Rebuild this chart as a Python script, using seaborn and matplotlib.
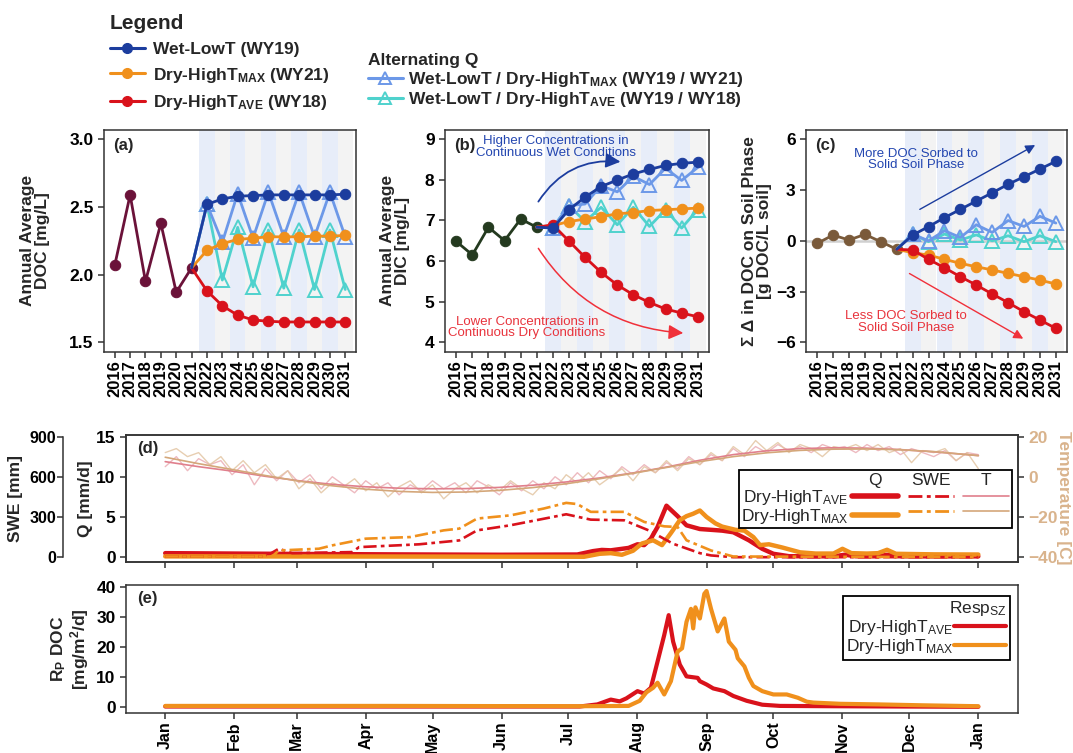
import matplotlib
matplotlib.use("Agg")
import matplotlib.pyplot as plt
from matplotlib.lines import Line2D
import seaborn as sns

# ---------------- data ----------------
YEARS = [2016, 2017, 2018, 2019, 2020, 2021, 2022, 2023, 2024, 2025, 2026, 2027, 2028, 2029, 2030, 2031]
YEARS_HIST = [2016, 2017, 2018, 2019, 2020, 2021]
YEARS_PROJ = [2021, 2022, 2023, 2024, 2025, 2026, 2027, 2028, 2029, 2030, 2031]
WET_YEARS = [2022, 2024, 2026, 2028, 2030]
DRY_YEARS = [2023, 2025, 2027, 2029, 2031]

# (a) annual average DOC [mg/L]
DOC_HIST = [2.07, 2.59, 1.95, 2.38, 1.87, 2.05]
DOC_WET = [2.05, 2.52, 2.56, 2.58, 2.585, 2.59, 2.59, 2.59, 2.59, 2.59, 2.595]
DOC_DRY_MAX = [2.05, 2.18, 2.23, 2.26, 2.27, 2.28, 2.28, 2.28, 2.285, 2.285, 2.29]
DOC_DRY_AVE = [2.05, 1.88, 1.77, 1.70, 1.665, 1.655, 1.65, 1.65, 1.65, 1.65, 1.65]
DOC_ALT_MAX = [2.05, 2.52, 2.24, 2.60, 2.27, 2.61, 2.28, 2.61, 2.28, 2.61, 2.28]
DOC_ALT_AVE = [2.05, 2.52, 1.96, 2.35, 1.91, 2.33, 1.90, 2.33, 1.89, 2.33, 1.89]

# (b) annual average DIC [mg/L]
DIC_HIST = [6.48, 6.15, 6.83, 6.50, 7.03, 6.83]
DIC_WET = [6.83, 6.81, 7.26, 7.57, 7.83, 7.99, 8.14, 8.25, 8.35, 8.40, 8.43]
DIC_DRY_MAX = [6.83, 6.87, 6.97, 7.03, 7.09, 7.16, 7.19, 7.24, 7.26, 7.28, 7.30]
DIC_DRY_AVE = [6.83, 6.89, 6.49, 6.09, 5.72, 5.41, 5.17, 4.98, 4.82, 4.72, 4.63]
DIC_ALT_MAX = [6.83, 6.82, 7.36, 7.40, 7.85, 7.70, 8.08, 7.88, 8.28, 7.98, 8.30]
DIC_ALT_AVE = [6.83, 6.82, 7.36, 6.97, 7.32, 6.89, 7.32, 6.85, 7.26, 6.81, 7.26]

# (c) cumulative change in sorbed DOC [g DOC/L soil]
SOC_HIST = [-0.15, 0.34, 0.05, 0.38, -0.05, -0.50]
SOC_WET = [-0.50, 0.34, 0.84, 1.37, 1.86, 2.35, 2.84, 3.34, 3.79, 4.24, 4.70]
SOC_DRY_MAX = [-0.50, -0.70, -0.84, -1.09, -1.33, -1.53, -1.72, -1.92, -2.12, -2.32, -2.55]
SOC_DRY_AVE = [-0.50, -0.54, -1.09, -1.59, -2.12, -2.61, -3.14, -3.65, -4.19, -4.68, -5.17]
SOC_ALT_MAX = [-0.50, 0.40, 0.00, 0.60, 0.20, 0.95, 0.50, 1.20, 0.85, 1.45, 1.05]
SOC_ALT_AVE = [-0.50, 0.40, -0.05, 0.40, 0.05, 0.35, 0.00, 0.30, -0.05, 0.30, -0.05]

# (d) daily discharge Q [mm/d]
Q_AVE_DAYS = [0, 30, 60, 100, 150, 185, 192, 196, 200, 204, 208, 212, 215, 218, 221, 225, 230,
              234, 240, 245, 250, 255, 262, 268, 273, 280, 300, 305, 310, 320, 324, 328, 340, 365]
Q_AVE = [0.50, 0.45, 0.40, 0.35, 0.30, 0.33, 0.75, 0.90, 0.85, 1.00, 1.15, 1.60, 1.50, 2.30, 3.75, 6.40, 5.10,
         3.96, 3.50, 3.40, 3.30, 3.10, 2.10, 1.04, 0.42, 0.12, 0.10, 0.30, 0.12, 0.10, 0.30, 0.12, 0.10, 0.10]
Q_MAX_DAYS = [0, 100, 188, 195, 200, 205, 210, 214, 219, 223, 227, 231, 234, 237, 240, 243, 247, 250, 256,
              260, 264, 267, 271, 277, 285, 292, 300, 304, 308, 315, 320, 324, 328, 345, 365]
Q_MAX = [0.10, 0.08, 0.05, 0.42, 0.50, 0.30, 0.80, 1.70, 2.10, 1.50, 3.00, 4.60, 5.10, 5.40, 5.80, 5.00, 4.20,
         3.80, 3.40, 3.30, 2.50, 1.50, 1.60, 1.20, 0.60, 0.45, 0.45, 1.04, 0.50, 0.45, 0.50, 0.92, 0.42, 0.35, 0.33]

# (d) snow water equivalent [mm]
SWE_AVE_DAYS = [0, 45, 51, 57, 84, 87, 104, 114, 132, 140, 155, 174, 180, 191, 206, 217, 228, 240, 245, 255, 365]
SWE_AVE = [5, 5, 63, 30, 38, 75, 88, 96, 125, 200, 238, 300, 320, 280, 275, 200, 100, 30, 13, 0, 0]
SWE_MAX_DAYS = [0, 48, 51, 69, 75, 90, 110, 125, 132, 140, 155, 170, 180, 185, 191, 206, 215, 224, 230, 234,
                245, 255, 365]
SWE_MAX = [5, 5, 50, 63, 88, 138, 150, 200, 213, 288, 312, 363, 405, 396, 338, 338, 263, 230, 225, 126,
           50, 5, 0]

# (d) air temperature [C], every 5 days plus a smooth fit
T_AVE = [5, 10, 3, 9, 6, 8, 1, 6, -4, 4, -2, 3, -3, 1, -6, 0, -4, -8, -2, -6, -3, -9, -4, -7, -2, -6, -3, -8,
         -2, -5, -9, -3, -7, -2, -6, 0, -4, 2, -3, 3, -1, 5, 1, 6, 2, 7, 4, 10, 6, 11, 8, 14, 10, 15, 12, 16,
         13, 15, 12, 16, 14, 15, 12, 16, 13, 15, 11, 14, 12, 10, 13, 8, 12, 11]
T_MAX = [12, 14, 10, 12, 6, 10, 3, 8, 2, 6, -1, 3, -6, -1, -8, -3, -5, -1, -7, -3, -10, -5, -2, -8, -4, -11,
         -6, -3, -8, -4, -7, -2, -6, -9, -3, -6, 1, -3, 2, -4, 0, 4, -2, 5, 2, 8, 3, 9, 6, 12, 8, 15, 11, 18,
         13, 17, 12, 16, 14, 10, 15, 14, 16, 13, 16, 12, 14, 7, 13, 12, 14, 8, 12, 4]
T_DAYS = list(range(0, 5 * len(T_AVE), 5))
T_FIT_DAYS = [0, 15, 30, 45, 60, 75, 90, 105, 120, 135, 150, 165, 180, 195, 210, 225, 240, 255, 270, 285,
              300, 315, 330, 345, 365]
T_AVE_FIT = [7.5, 5.0, 2.8, 0.2, -2.0, -3.8, -5.0, -5.7, -6.0, -5.9, -5.3, -4.2, -2.6, -0.6, 1.9, 4.8, 8.2,
             11.0, 12.9, 14.0, 14.4, 14.2, 13.5, 12.4, 10.5]
T_MAX_FIT = [9.7, 6.5, 3.6, 0.6, -2.2, -4.5, -6.2, -7.3, -7.8, -7.6, -6.8, -5.4, -3.5, -1.0, 1.7, 4.6, 7.5,
             10.0, 11.9, 13.1, 13.7, 13.8, 13.4, 12.5, 10.5]

# (e) DOC respiration flux R_P [mg/m2/d]
RP_AVE_DAYS = [0, 100, 186, 194, 200, 204, 207, 212, 215, 218, 221, 224, 226, 228, 231, 234, 239, 240, 243,
               246, 251, 255, 261, 268, 276, 300, 330, 365]
RP_AVE = [0.3, 0.3, 0.3, 1.0, 2.6, 2.0, 3.0, 5.4, 4.6, 6.5, 15.2, 24.0, 30.6, 21.8, 14.2, 10.3, 9.8, 8.7, 7.6,
          6.3, 5.4, 3.8, 2.2, 0.9, 0.5, 0.4, 0.3, 0.2]
RP_MAX_DAYS = [0, 100, 186, 208, 213, 216, 219, 221, 224, 227, 230, 232, 234, 236, 237, 238, 240, 242, 243,
               245, 248, 251, 253, 256, 257, 260, 262, 264, 268, 273, 279, 284, 288, 291, 303, 320, 340, 365]
RP_MAX = [0.5, 0.5, 0.4, 0.5, 2.2, 5.0, 6.5, 8.2, 4.3, 8.7, 18.5, 19.6, 28.4, 32.7, 26.2, 33.2, 29.5, 37.7,
          38.6, 32.7, 25.2, 29.5, 21.8, 19.1, 16.3, 13.6, 9.8, 7.1, 5.4, 4.3, 4.3, 3.2, 1.9, 1.6, 1.2, 1.0, 0.7, 0.4]

MONTH_LABELS = ["Jan", "Feb", "Mar", "Apr", "May", "Jun", "Jul", "Aug", "Sep", "Oct", "Nov", "Dec", "Jan"]
MONTH_DAYS = [0, 31, 59, 90, 120, 151, 181, 212, 243, 273, 304, 334, 365]

# ---------------- style ----------------
NAVY = "#1c3d9e"
CORNFLOWER = "#6c98e8"
TURQ = "#4fd2cd"
ORANGE = "#f0901c"
RED = "#d9121b"
MAROON = "#6b1239"
DKGREEN = "#243a1f"
BROWN = "#7a5a3a"
BAND_WET = "#e7edf9"
BAND_DRY = "#f3f3f3"
T_PINK = "#e8a3ab"
T_TAN = "#e3c6a4"
T_PINK_FIT = "#e07f8c"
T_TAN_FIT = "#d4a77a"
TEMP_AXIS = "#d9b38c"
BLUE_TXT = "#2346b0"
RED_TXT = "#e8333c"
SWE_DASH = (0, (5, 1.6, 1.4, 1.6))

sns.set_theme(style="ticks")
plt.rcParams["font.family"] = ["Liberation Sans", "DejaVu Sans"]
plt.rcParams["mathtext.fontset"] = "custom"
plt.rcParams["mathtext.rm"] = "Liberation Sans"
plt.rcParams["mathtext.bf"] = "Liberation Sans:bold"
plt.rcParams["mathtext.it"] = "Liberation Sans:italic"
plt.rcParams["axes.edgecolor"] = "#333333"
plt.rcParams["axes.linewidth"] = 1.1
for k in ["xtick", "ytick"]:
    plt.rcParams[f"{k}.major.size"] = 4
    plt.rcParams[f"{k}.major.width"] = 1.1
    plt.rcParams[f"{k}.color"] = "#333333"
    plt.rcParams[f"{k}.labelcolor"] = "black"

W, H = 1073, 753


def rect(left, top, right, bottom):
    return [left / W, 1 - bottom / H, (right - left) / W, (bottom - top) / H]


def line(ax, x, y, **kws):
    sns.lineplot(x=x, y=y, ax=ax, estimator=None, sort=False, legend=False, **kws)


def annual_panel(ax, hist, hist_color, wet, dmax, dave, amax, aave, tag):
    for yr in WET_YEARS:
        ax.axvspan(yr - 0.5, yr + 0.5, color=BAND_WET, lw=0, zorder=0)
    for yr in DRY_YEARS:
        ax.axvspan(yr - 0.5, yr + 0.5, color=BAND_DRY, lw=0, zorder=0)
    circ = dict(marker="o", ms=7.5, lw=2.0)
    tri = dict(marker="^", ms=10, lw=2.0, mfc="none", mew=1.4, markevery=slice(1, None))
    line(ax, YEARS_HIST, hist, color=hist_color, mec=hist_color, zorder=3, **circ)
    line(ax, YEARS_PROJ, aave, color=TURQ, mec=TURQ, zorder=4, **tri)
    line(ax, YEARS_PROJ, amax, color=CORNFLOWER, mec=CORNFLOWER, zorder=5, **tri)
    line(ax, YEARS_PROJ, dmax, color=ORANGE, mec=ORANGE, zorder=6, markevery=slice(1, None), **circ)
    line(ax, YEARS_PROJ, dave, color=RED, mec=RED, zorder=6, markevery=slice(1, None), **circ)
    line(ax, YEARS_PROJ, wet, color=NAVY, mec=NAVY, zorder=7, markevery=slice(1, None), **circ)
    ax.set_xlim(2015.3, 2031.7)
    ax.set_xticks(YEARS)
    ax.set_xticklabels([str(y) for y in YEARS], rotation=90, fontsize=12, fontweight="bold")
    ax.tick_params(axis="x", pad=2)
    ax.text(0.035, 0.965, tag, transform=ax.transAxes, ha="left", va="top",
            fontsize=12, fontweight="bold", zorder=10)
    for lab in ax.get_yticklabels():
        lab.set_fontweight("bold")
        lab.set_fontsize(12.5)


fig = plt.figure(figsize=(W / 100, H / 100), dpi=100)
ax_a = fig.add_axes(rect(104, 130, 356, 351.7))
ax_b = fig.add_axes(rect(445, 130, 709, 351.7))
ax_c = fig.add_axes(rect(806, 130, 1067, 351.7))
ax_d = fig.add_axes(rect(126, 434.5, 1018, 562))
ax_e = fig.add_axes(rect(126, 585, 1018, 713))

LABEL_KW = dict(fontsize=12.5, fontweight="bold", linespacing=1.0)

# ---- (a) ----
ax_a.set_ylim(1.43, 3.07)
ax_a.set_yticks([1.5, 2.0, 2.5, 3.0])
ax_a.set_yticklabels(["1.5", "2.0", "2.5", "3.0"])
annual_panel(ax_a, DOC_HIST, MAROON, DOC_WET, DOC_DRY_MAX, DOC_DRY_AVE, DOC_ALT_MAX, DOC_ALT_AVE, "(a)")
ax_a.set_ylabel("Annual Average\nDOC [mg/L]", **LABEL_KW)
ax_a.yaxis.set_label_coords(-0.214, 0.5)

# ---- (b) ----
ax_b.set_ylim(3.77, 9.22)
ax_b.set_yticks([4, 5, 6, 7, 8, 9])
annual_panel(ax_b, DIC_HIST, DKGREEN, DIC_WET, DIC_DRY_MAX, DIC_DRY_AVE, DIC_ALT_MAX, DIC_ALT_AVE, "(b)")
ax_b.set_ylabel("Annual Average\nDIC [mg/L]", **LABEL_KW)
ax_b.yaxis.set_label_coords(-0.133, 0.5)
ax_b.text(2022.2, 8.8, "Higher Concentrations in\nContinuous Wet Conditions", color=BLUE_TXT,
          fontsize=9.5, ha="center", va="center", linespacing=0.95, zorder=10)
ax_b.annotate("", xy=(2026.2, 8.44), xytext=(2021.1, 7.46),
              arrowprops=dict(arrowstyle="-|>", color=NAVY, lw=1.3, mutation_scale=22,
                              connectionstyle="arc3,rad=-0.3", shrinkA=0, shrinkB=0), zorder=10)
ax_b.text(2020.4, 4.36, "Lower Concentrations in\nContinuous Dry Conditions", color=RED_TXT,
          fontsize=9.5, ha="center", va="center", linespacing=0.95, zorder=10)
ax_b.annotate("", xy=(2030.1, 4.23), xytext=(2021.1, 6.31),
              arrowprops=dict(arrowstyle="-|>", color="#f0303a", lw=1.1, mutation_scale=22,
                              connectionstyle="arc3,rad=0.25", shrinkA=0, shrinkB=0), zorder=10)

# ---- (c) ----
ax_c.set_ylim(-6.55, 6.55)
ax_c.set_yticks([-6, -3, 0, 3, 6])
ax_c.axhline(0, color="#d0d0d0", lw=1.8, zorder=1)
annual_panel(ax_c, SOC_HIST, BROWN, SOC_WET, SOC_DRY_MAX, SOC_DRY_AVE, SOC_ALT_MAX, SOC_ALT_AVE, "(c)")
ax_c.set_ylabel("\u03a3 \u0394 in DOC on Soil Phase\n[g DOC/L soil]", **LABEL_KW)
ax_c.yaxis.set_label_coords(-0.131, 0.5)
ax_c.text(2022.2, 4.8, "More DOC Sorbed to\nSolid Soil Phase", color=BLUE_TXT,
          fontsize=9.5, ha="center", va="center", linespacing=0.95, zorder=10)
ax_c.annotate("", xy=(2029.7, 5.66), xytext=(2022.45, 1.86),
              arrowprops=dict(arrowstyle="-|>", color=NAVY, lw=1.0, mutation_scale=14,
                              shrinkA=0, shrinkB=0), zorder=10)
ax_c.text(2021.6, -4.79, "Less DOC Sorbed to\nSolid Soil Phase", color=RED_TXT,
          fontsize=9.5, ha="center", va="center", linespacing=0.95, zorder=10)
ax_c.annotate("", xy=(2028.95, -5.78), xytext=(2021.8, -1.93),
              arrowprops=dict(arrowstyle="-|>", color="#f0303a", lw=1.0, mutation_scale=14,
                              shrinkA=0, shrinkB=0), zorder=10)

# ---- (d) ----
XLIM = (-17.6, 382.8)
QLIM = (-0.6, 15.25)
ax_swe = ax_d.twinx()
ax_t = ax_d.twinx()

line(ax_d, Q_AVE_DAYS, Q_AVE, color=RED, lw=3.2, zorder=5)
line(ax_d, Q_MAX_DAYS, Q_MAX, color=ORANGE, lw=3.2, zorder=6)
line(ax_swe, SWE_AVE_DAYS, SWE_AVE, color=RED, lw=1.9, linestyle=SWE_DASH)
line(ax_swe, SWE_MAX_DAYS, SWE_MAX, color=ORANGE, lw=1.9, linestyle=SWE_DASH)
line(ax_t, T_DAYS, T_AVE, color=T_PINK, lw=1.0, alpha=0.75)
line(ax_t, T_DAYS, T_MAX, color=T_TAN, lw=1.0, alpha=0.85)
line(ax_t, T_FIT_DAYS, T_AVE_FIT, color=T_PINK_FIT, lw=1.2)
line(ax_t, T_FIT_DAYS, T_MAX_FIT, color=T_TAN_FIT, lw=1.2)

for ax in [ax_d, ax_swe, ax_t]:
    ax.set_xlim(*XLIM)
ax_d.set_ylim(*QLIM)
ax_d.set_yticks([0, 5, 10, 15])
ax_swe.set_ylim(QLIM[0] * 60, QLIM[1] * 60)
ax_swe.set_yticks([0, 300, 600, 900])
ax_t.set_ylim(-40 + 4 * QLIM[0], -40 + 4 * QLIM[1])
ax_t.set_yticks([-40, -20, 0, 20])

ax_d.set_xticks(MONTH_DAYS)
ax_d.set_xticklabels([])
ax_d.set_ylabel("Q [mm/d]", **LABEL_KW)
ax_d.yaxis.set_label_coords(-0.037, 0.5)
ax_d.text(0.012, 0.95, "(d)", transform=ax_d.transAxes, ha="left", va="top",
          fontsize=12, fontweight="bold")

ax_swe.yaxis.tick_left()
ax_swe.yaxis.set_label_position("left")
ax_swe.spines["left"].set_position(("outward", 45))
ax_swe.spines["left"].set_visible(True)
ax_swe.spines["left"].set_bounds(0, 900)
for s in ["right", "top", "bottom"]:
    ax_swe.spines[s].set_visible(False)
ax_swe.tick_params(axis="y", pad=1.5)
ax_swe.set_ylabel("SWE [mm]", **LABEL_KW)
ax_swe.yaxis.set_label_coords(-0.116, 0.5)

ax_t.tick_params(axis="y", labelcolor=TEMP_AXIS)
fig.text(1064 / W, 1 - 498 / H, "Temperature [C]", color=TEMP_AXIS, rotation=270,
         ha="center", va="center", fontsize=12.5, fontweight="bold")

for ax, size in [(ax_d, 12.5), (ax_swe, 11.5), (ax_t, 12.5)]:
    for lab in ax.get_yticklabels():
        lab.set_fontweight("bold")
        lab.set_fontsize(size)

q_h = [Line2D([], [], color=RED, lw=4), Line2D([], [], color=ORANGE, lw=4)]
swe_h = [Line2D([], [], color=RED, lw=2, linestyle=SWE_DASH),
         Line2D([], [], color=ORANGE, lw=2, linestyle=SWE_DASH)]
t_h = [Line2D([], [], color=T_PINK_FIT, lw=1.2), Line2D([], [], color=T_TAN_FIT, lw=1.2)]
leg_d = ax_t.legend(q_h + swe_h + t_h,
                    ["Dry-HighT$_{\\mathrm{AVE}}$", "Dry-HighT$_{\\mathrm{MAX}}$", "", "", "", ""],
                    ncol=3, markerfirst=False, loc="upper right", bbox_to_anchor=(0.993, 0.72),
                    title=" ", title_fontsize=11.5, fontsize=12.5, handlelength=2.65, handletextpad=0.2,
                    columnspacing=0.35, labelspacing=0.0, borderpad=0.15, borderaxespad=0,
                    fancybox=False, edgecolor="black", framealpha=1)
leg_d.get_frame().set_linewidth(1.3)

# ---- (e) ----
line(ax_e, RP_AVE_DAYS, RP_AVE, color=RED, lw=3.0, zorder=5)
line(ax_e, RP_MAX_DAYS, RP_MAX, color=ORANGE, lw=3.0, zorder=6)
ax_e.set_xlim(*XLIM)
ax_e.set_ylim(-1.85, 40.6)
ax_e.set_yticks([0, 10, 20, 30, 40])
for lab in ax_e.get_yticklabels():
    lab.set_fontweight("bold")
    lab.set_fontsize(12.5)
ax_e.set_xticks(MONTH_DAYS)
ax_e.set_xticklabels(MONTH_LABELS, rotation=90, fontsize=11.5, fontweight="bold")
ax_e.tick_params(axis="x", pad=2)
ax_e.set_ylabel("R$_\\mathbf{P}$ DOC\n[mg/m$^\\mathbf{2}$/d]", **LABEL_KW)
ax_e.yaxis.set_label_coords(-0.039, 0.5)
ax_e.text(0.012, 0.95, "(e)", transform=ax_e.transAxes, ha="left", va="top",
          fontsize=12, fontweight="bold")
leg_e = ax_e.legend([Line2D([], [], color=RED, lw=3), Line2D([], [], color=ORANGE, lw=3)],
                    ["Dry-HighT$_{\\mathrm{AVE}}$", "Dry-HighT$_{\\mathrm{MAX}}$"],
                    markerfirst=False, loc="upper right", bbox_to_anchor=(0.991, 0.917),
                    title="Resp$_{\\mathrm{SZ}}$", title_fontsize=12.5, fontsize=12.5, alignment="right",
                    handlelength=3.0, handletextpad=0.05, labelspacing=0.0, borderpad=0.2,
                    borderaxespad=0, fancybox=False, edgecolor="black", framealpha=1)
leg_e.get_frame().set_linewidth(1.3)

# ---- top legends ----
circ_h = dict(marker="o", ms=7, lw=2.2)
tri_h = dict(marker="^", ms=9, lw=2.2, mfc="none", mew=1.4)
fig.legend([Line2D([], [], color=NAVY, **circ_h), Line2D([], [], color=ORANGE, **circ_h),
            Line2D([], [], color=RED, **circ_h)],
           ["Wet-LowT (WY19)", "Dry-HighT$_{\\mathbf{MAX}}$ (WY21)", "Dry-HighT$_{\\mathbf{AVE}}$ (WY18)"],
           loc="upper left", bbox_to_anchor=(110 / W, 1 - 14 / H), frameon=False,
           title="Legend", alignment="left", prop={"weight": "bold", "size": 12.5},
           title_fontproperties={"weight": "bold", "size": 15},
           handlelength=2.0, handletextpad=0.45, labelspacing=0.5, borderpad=0, borderaxespad=0)
fig.legend([Line2D([], [], color=CORNFLOWER, mec=CORNFLOWER, **tri_h),
            Line2D([], [], color=TURQ, mec=TURQ, **tri_h)],
           ["Wet-LowT / Dry-HighT$_{\\mathbf{MAX}}$ (WY19 / WY21)",
            "Wet-LowT / Dry-HighT$_{\\mathbf{AVE}}$ (WY19 / WY18)"],
           loc="upper left", bbox_to_anchor=(368 / W, 1 - 53 / H), frameon=False,
           title="Alternating Q", alignment="left", prop={"weight": "bold", "size": 12.5},
           title_fontproperties={"weight": "bold", "size": 12.5},
           handlelength=2.0, handletextpad=0.3, labelspacing=0.1, borderpad=0, borderaxespad=0)

# column headers of the (d) legend, centred over each handle column
fig.canvas.draw()
renderer = fig.canvas.get_renderer()
inv = ax_t.transAxes.inverted()
for idx, txt in [(0, "Q"), (2, "SWE"), (4, "T")]:
    bb = leg_d.legend_handles[idx].get_window_extent(renderer)
    xc = (bb.x0 + bb.x1) / 2
    yc = (bb.y0 + bb.y1) / 2 + 15
    xa, ya = inv.transform((xc, yc))
    ax_t.text(xa, ya, txt, transform=ax_t.transAxes, ha="center", va="center", fontsize=12.5, zorder=20)

fig.savefig("out.png", dpi=100)
